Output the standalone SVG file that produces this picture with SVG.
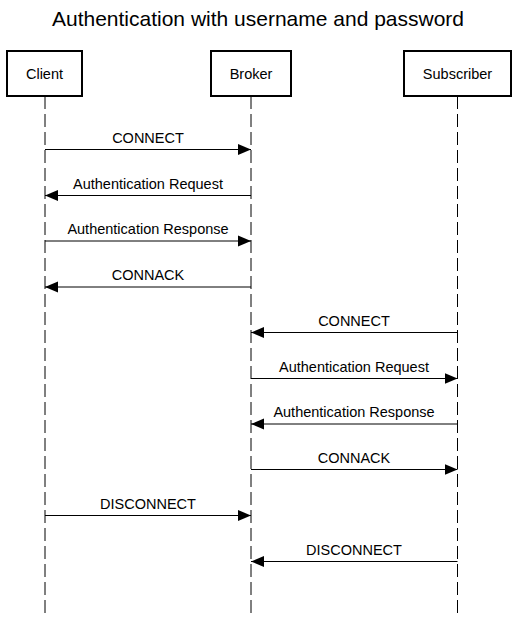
<svg xmlns="http://www.w3.org/2000/svg" width="518" height="618" viewBox="0 0 518 618">
<style>
text{font-family:"Liberation Sans",Arial,sans-serif;fill:#000}
.title{font-size:21px;text-anchor:middle}
.lbl{font-size:14.5px;text-anchor:middle}
.box{fill:#fff;stroke:#000;stroke-width:2}
.life{stroke:#000;stroke-width:1;stroke-dasharray:13 5;fill:none}
.msg{stroke:#000;stroke-width:1;fill:none;marker-end:url(#arr)}
</style>
<defs>
<marker id="arr" markerUnits="userSpaceOnUse" markerWidth="14" markerHeight="12" refX="13" refY="6" orient="auto">
<path d="M0,0.5 L13,6 L0,11.5 Z" fill="#000"/>
</marker>
</defs>
<rect width="518" height="618" fill="#fff"/>
<text class="title" x="258" y="26">Authentication with username and password</text>
<g id="lifelines">
<line class="life" x1="45" y1="96" x2="45" y2="613"/>
<line class="life" x1="251" y1="96" x2="251" y2="613"/>
<line class="life" x1="457.5" y1="96" x2="457.5" y2="613"/>
</g>
<g id="client"><rect class="box" x="7" y="51" width="75" height="45"/><text class="lbl" x="44.5" y="78.5">Client</text></g>
<g id="broker"><rect class="box" x="211" y="51" width="80" height="45"/><text class="lbl" x="251" y="78.5">Broker</text></g>
<g id="subscriber"><rect class="box" x="404" y="51" width="107" height="45"/><text class="lbl" x="457.5" y="78.5">Subscriber</text></g>
<g id="connectors">
<line class="msg" x1="45" y1="149.5" x2="251" y2="149.5"/><text class="lbl" x="148" y="142.5">CONNECT</text>
<line class="msg" x1="251" y1="195.5" x2="45" y2="195.5"/><text class="lbl" x="148" y="188.5">Authentication Request</text>
<line class="msg" x1="45" y1="241" x2="251" y2="241"/><text class="lbl" x="148" y="234">Authentication Response</text>
<line class="msg" x1="251" y1="287" x2="45" y2="287"/><text class="lbl" x="148" y="280">CONNACK</text>
<line class="msg" x1="457.5" y1="332.5" x2="251" y2="332.5"/><text class="lbl" x="354" y="325.5">CONNECT</text>
<line class="msg" x1="251" y1="378.5" x2="457.5" y2="378.5"/><text class="lbl" x="354" y="371.5">Authentication Request</text>
<line class="msg" x1="457.5" y1="424" x2="251" y2="424"/><text class="lbl" x="354" y="417">Authentication Response</text>
<line class="msg" x1="251" y1="469.5" x2="457.5" y2="469.5"/><text class="lbl" x="354" y="462.5">CONNACK</text>
<line class="msg" x1="45" y1="515.5" x2="251" y2="515.5"/><text class="lbl" x="148" y="508.5">DISCONNECT</text>
<line class="msg" x1="457.5" y1="561.5" x2="251" y2="561.5"/><text class="lbl" x="354" y="554.5">DISCONNECT</text>
</g>
</svg>
